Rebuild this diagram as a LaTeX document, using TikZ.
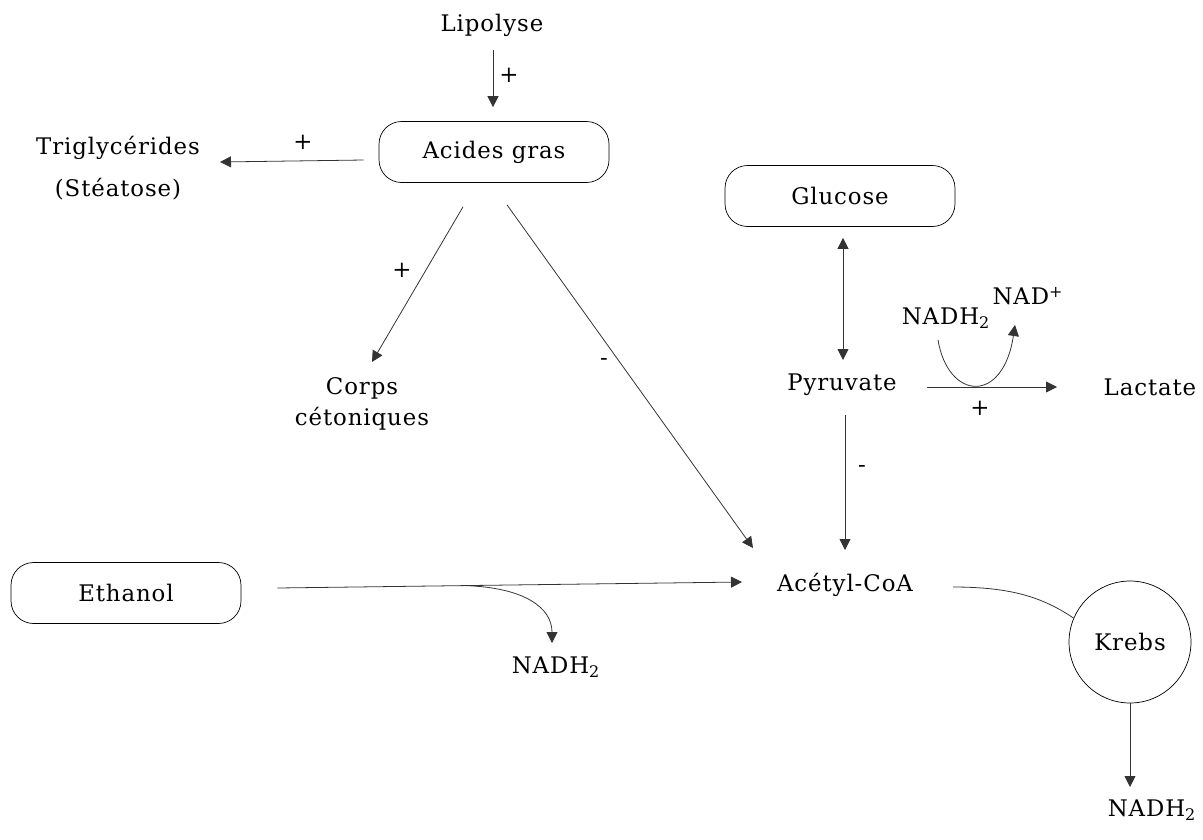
\documentclass[tikz,border=0pt]{standalone}
\usepackage{fontspec}
\setmainfont{DejaVu Serif}[LetterSpace=4]
\usetikzlibrary{arrows.meta,calc}

\begin{document}
\begin{tikzpicture}[
  x=0.02cm, y=-0.02cm,
  font=\fontsize{13}{16}\selectfont,
  every node/.style={inner sep=0pt},
  pool/.style={draw,rounded corners=4.5mm,align=center,minimum height=12.2mm,
    minimum width=46mm,inner sep=2pt},
  cycle/.style={draw,circle,minimum size=24.4mm,inner sep=2pt},
  metab/.style={align=center},
  sign/.style={font=\fontsize{13}{16}\selectfont},
  arrow/.style={-{Triangle[length=2.2mm,width=2.2mm]},line width=0.45pt,black!80},
  link/.style={line width=0.45pt,black!80}
]
\useasboundingbox (0,0) rectangle (1203,839);

% metabolites
\node[metab] (lipo) at (492,25) {Lipolyse};
\node[pool] (acides) at (494,152) {Acides gras};
\node[metab] (trig) at (118,168) {Triglycérides\\[8pt](Stéatose)};
\node[metab] (corps) at (362,404) {Corps\\[2pt]cétoniques};
\node[pool] (glucose) at (840,196) {Glucose};
\node[metab] (pyr) at (842,385) {Pyruvate};
\node[metab] (lact) at (1150,387) {Lactate};
\node[metab] (nadhtop) at (946,318) {NADH\textsubscript{2}};
\node[metab] (nadplus) at (1028,296) {NAD\textsuperscript{+}};
\node[metab] (acetyl) at (845,585) {Acétyl-CoA};
\node[pool] (ethanol) at (126,593) {Ethanol};
\node[metab] (nadhmid) at (556,667) {NADH\textsubscript{2}};
\node[cycle] (krebs) at (1130,642) {Krebs};
\node[metab] (nadhbot) at (1152,810) {NADH\textsubscript{2}};

% signs
\node[sign] (plipo) at (509,75) {+};
\node[sign] (ptrig) at (303,142) {+};
\node[sign] (pcorps) at (402,270) {+};
\node[sign] (macides) at (604,362) {-};
\node[sign] (mpyr) at (862,469) {-};
\node[sign] (plact) at (980,408) {+};

% reactions
\draw[arrow] ($(lipo)+(1,25)$) -- ($(acides.north)+(-1,-14)$);
\draw[arrow] ($(acides.west)+(-15,8)$) -- ($(trig)+(102,-6)$);
\draw[arrow] ($(acides.south)+(-31,24)$) -- ($(corps)+(10,-42)$);
\draw[arrow] ($(acides.south)+(13,22)$) -- ($(acetyl)+(-92,-37)$);
\draw[arrow,{Triangle[length=2.2mm,width=2.2mm]}-{Triangle[length=2.2mm,width=2.2mm]}]
  ($(glucose.south)+(3,11)$) -- ($(pyr)+(1,-25)$);
\draw[arrow] ($(pyr)+(85,2)$) -- ($(lact)+(-93,0)$);
\draw[arrow] ($(nadhtop)+(-8,22)$) .. controls +(10,60) and +(-12,80) .. ($(nadplus)+(-13,29)$);
\draw[arrow] ($(pyr)+(3,30)$) -- ($(acetyl)+(0,-35)$);
\draw[arrow] ($(ethanol.east)+(36,-5)$) -- coordinate[pos=0.404] (fork) ($(acetyl)+(-103,-3)$);
\draw[arrow] (fork) .. controls +(60,2) and +(0,-35) .. ($(nadhmid)+(-4,-24)$);
\draw[link] ($(acetyl)+(108,2)$) .. controls +(60,0) and +(-30,-20) .. (krebs.157);
\draw[arrow] (krebs.south) -- ($(nadhbot)+(-22,-23)$);
\end{tikzpicture}
\end{document}
